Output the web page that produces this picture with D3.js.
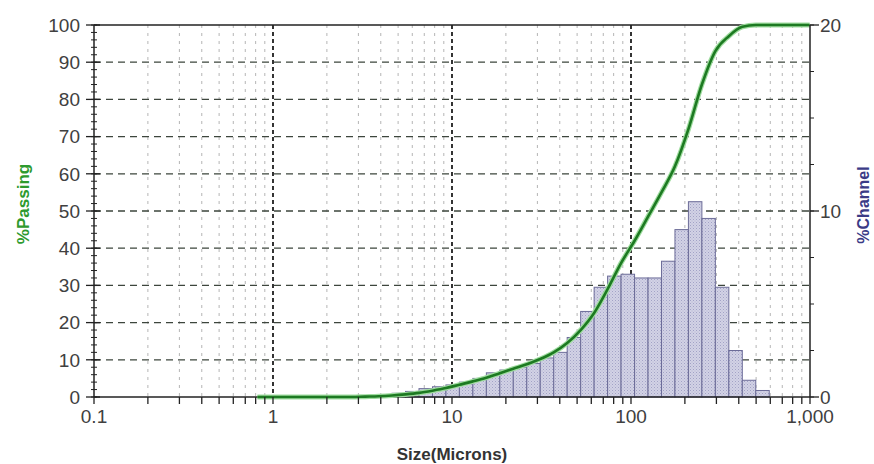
<!DOCTYPE html>
<html>
<head>
<meta charset="utf-8">
<script src="https://cdn.jsdelivr.net/npm/d3@7/dist/d3.min.js"></script>
<style>
	body { margin: 0; background: #fff; }
	text { font-family: "Liberation Sans", Arial, sans-serif; }
</style>
</head>
<body>
<svg id="chart" width="874" height="464"></svg>
<script>
"use strict";

// channel edges (microns) and % in each channel
var channelEdges = [3.89, 4.62, 5.5, 6.54, 7.78, 9.25, 11, 13.08, 15.56, 18.5, 22, 26.16,
	31.11, 37, 44, 52.33, 62.23, 74, 88, 104.7, 124.5, 148, 176, 209.3, 248.9, 296, 352,
	418.6, 497.8, 592];
var channelPct = [0.1, 0.2, 0.3, 0.45, 0.55, 0.65, 0.8, 1.0, 1.3, 1.45, 1.6, 1.8, 2.1, 2.4,
	3.2, 4.6, 5.9, 6.5, 6.6, 6.4, 6.4, 7.3, 9.0, 10.5, 9.6, 5.9, 2.5, 0.9, 0.35];

// cumulative % passing
var curveSizes = [0.818, 0.972, 1.156, 1.375, 1.635, 1.945, 2.312, 2.75, 3.27, 3.89, 4.62,
	5.5, 6.54, 7.78, 9.25, 11, 13.08, 15.56, 18.5, 22, 26.16, 31.11, 37, 44, 52.33, 62.23,
	74, 88, 104.7, 124.5, 148, 176, 209.3, 248.9, 296, 352, 418.6, 497.8, 592, 704, 837, 995.6];
var passing = [0, 0, 0, 0, 0, 0, 0, 0, 0.1, 0.2, 0.4, 0.7, 1.1, 1.7, 2.4, 3.3, 4.2, 5.2, 6.4,
	7.6, 8.8, 10.2, 12.0, 14.5, 18.0, 22.6, 29, 36, 42, 48.5, 55, 62, 72, 84, 93, 97, 99.5,
	100, 100, 100, 100, 100];

var xTicks = [0.1, 1, 10, 100, 1000];
var xTickLabels = ["0.1", "1", "10", "100", "1,000"];
var leftTicks = [0, 10, 20, 30, 40, 50, 60, 70, 80, 90, 100];
var rightTicks = [0, 10, 20];

var L = 94, R = 810, T = 25, B = 397;
var svg = d3.select("#chart");

var x = d3.scaleLog().domain([0.1, 1000]).range([L, R]);
var yL = d3.scaleLinear().domain([0, 100]).range([B, T]);
var yR = d3.scaleLinear().domain([0, 20]).range([B, T]);

// dotted fill for the bars
var defs = svg.append("defs");
var pat = defs.append("pattern").attr("id", "dots").attr("patternUnits", "userSpaceOnUse")
	.attr("width", 3).attr("height", 3);
pat.append("rect").attr("width", 3).attr("height", 3).attr("fill", "#d2d2e5");
pat.append("rect").attr("width", 1).attr("height", 1).attr("fill", "#a2a2c6");
pat.append("rect").attr("x", 1.5).attr("y", 1.5).attr("width", 1).attr("height", 1).attr("fill", "#b5b5d3");

// minor vertical grid
var minors = [];
[0.1, 1, 10, 100].forEach(function(d) {
	for (var k = 2; k <= 9; k++) minors.push(d * k);
});
svg.append("g").selectAll("line").data(minors).join("line")
	.attr("x1", d => x(d)).attr("x2", d => x(d)).attr("y1", T).attr("y2", B)
	.attr("stroke", "#b5b5b5").attr("stroke-width", 1).attr("stroke-dasharray", "3,5");

// major vertical grid
svg.append("g").selectAll("line").data([1, 10, 100]).join("line")
	.attr("x1", d => x(d)).attr("x2", d => x(d)).attr("y1", T).attr("y2", B)
	.attr("stroke", "#111").attr("stroke-width", 1.7).attr("stroke-dasharray", "4,3");

// horizontal grid
svg.append("g").selectAll("line").data(leftTicks.slice(1, -1)).join("line")
	.attr("x1", L).attr("x2", R).attr("y1", d => yL(d)).attr("y2", d => yL(d))
	.attr("stroke", "#3d463d").attr("stroke-width", 1.3).attr("stroke-dasharray", "7,5");

// bars
svg.append("g").selectAll("rect").data(channelPct).join("rect")
	.attr("x", (d, i) => x(channelEdges[i]))
	.attr("width", (d, i) => x(channelEdges[i + 1]) - x(channelEdges[i]))
	.attr("y", d => yR(d)).attr("height", d => B - yR(d))
	.attr("fill", "url(#dots)").attr("stroke", "#6c6c98").attr("stroke-width", 1);

// frame
svg.append("line").attr("x1", L).attr("x2", R).attr("y1", T).attr("y2", T)
	.attr("stroke", "#222").attr("stroke-width", 1.5);
svg.append("line").attr("x1", L).attr("x2", R).attr("y1", B).attr("y2", B)
	.attr("stroke", "#222").attr("stroke-width", 1.5);

// cumulative curve
var line = d3.line().x((d, i) => x(curveSizes[i])).y(d => yL(d)).curve(d3.curveMonotoneX);
svg.append("path").datum(passing).attr("d", line).attr("fill", "none")
	.attr("stroke", "#9fdc9f").attr("stroke-width", 5);
svg.append("path").datum(passing).attr("d", line).attr("fill", "none")
	.attr("stroke", "#1d7a22").attr("stroke-width", 2.6);

var labelSize = 19;

// left axis
var gL = svg.append("g").attr("transform", "translate(" + L + ",0)");
gL.append("line").attr("y1", T).attr("y2", B).attr("stroke", "#222").attr("stroke-width", 1.5);
gL.selectAll(".mn").data(d3.range(0, 101, 2)).join("line").attr("class", "mn")
	.attr("x1", -3).attr("x2", 3).attr("y1", d => yL(d)).attr("y2", d => yL(d))
	.attr("stroke", "#222");
gL.selectAll(".mj").data(leftTicks).join("line").attr("class", "mj")
	.attr("x1", -8).attr("x2", 6).attr("y1", d => yL(d)).attr("y2", d => yL(d))
	.attr("stroke", "#222").attr("stroke-width", 1.3);
gL.selectAll("text").data(leftTicks).join("text")
	.attr("x", -14).attr("y", d => yL(d)).attr("dy", "0.36em").attr("text-anchor", "end")
	.attr("font-size", labelSize).attr("fill", "#404040").text(d => d);

// right axis
var gR = svg.append("g").attr("transform", "translate(" + R + ",0)");
gR.append("line").attr("y1", T).attr("y2", B).attr("stroke", "#222").attr("stroke-width", 1.5);
gR.selectAll(".mn").data(d3.range(0, 20.1, 2.5)).join("line").attr("class", "mn")
	.attr("x1", 0).attr("x2", 4).attr("y1", d => yR(d)).attr("y2", d => yR(d))
	.attr("stroke", "#222");
gR.selectAll(".mj").data(rightTicks).join("line").attr("class", "mj")
	.attr("x1", 0).attr("x2", 9).attr("y1", d => yR(d)).attr("y2", d => yR(d))
	.attr("stroke", "#222").attr("stroke-width", 1.3);
gR.selectAll("text").data(rightTicks).join("text")
	.attr("x", 10).attr("y", d => yR(d)).attr("dy", "0.36em").attr("text-anchor", "start")
	.attr("font-size", labelSize).attr("fill", "#404040").text(d => d);

// bottom axis
var gB = svg.append("g").attr("transform", "translate(0," + B + ")");
gB.selectAll(".mn").data(minors.concat(xTicks)).join("line").attr("class", "mn")
	.attr("x1", d => x(d)).attr("x2", d => x(d)).attr("y1", 0).attr("y2", 7)
	.attr("stroke", "#222").attr("stroke-width", 1.3);
gB.selectAll("text").data(xTicks).join("text")
	.attr("x", d => x(d)).attr("y", 26).attr("text-anchor", "middle")
	.attr("font-size", labelSize).attr("fill", "#404040").text((d, i) => xTickLabels[i]);

// axis titles
svg.append("text").attr("x", 452).attr("y", 460).attr("text-anchor", "middle")
	.attr("font-size", 17).attr("font-weight", "bold").attr("fill", "#333").text("Size(Microns)");
svg.append("text").attr("transform", "translate(29,204) rotate(-90)").attr("text-anchor", "middle")
	.attr("font-size", 17).attr("font-weight", "bold").attr("fill", "#2e9a2e").text("%Passing");
svg.append("text").attr("transform", "translate(869,205) rotate(-90)").attr("text-anchor", "middle")
	.attr("font-size", 16).attr("font-weight", "bold").attr("fill", "#3b3b86").text("%Channel");
</script>
</body>
</html>
